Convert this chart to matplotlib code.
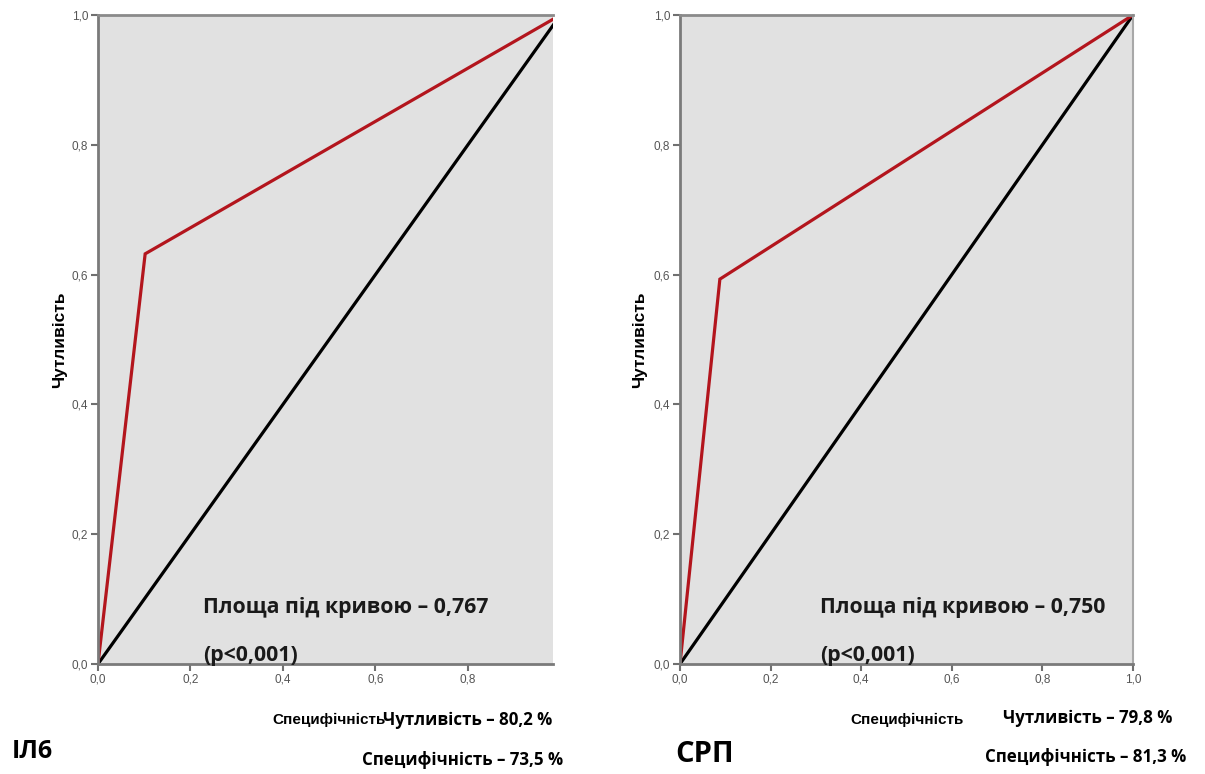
import matplotlib
matplotlib.use("Agg")
import matplotlib.pyplot as plt

# -----------------------------
# DATA
# -----------------------------
fpr_il6 = [0.0, 0.102, 1.0]
tpr_il6 = [0.0, 0.632, 1.0]
fpr_crp = [0.0, 0.088, 1.0]
tpr_crp = [0.0, 0.593, 1.0]
ref_line = [0.0, 1.0]

tick_vals = [0.0, 0.2, 0.4, 0.6, 0.8, 1.0]
tick_labels = ["0,0", "0,2", "0,4", "0,6", "0,8", "1,0"]

auc_il6 = "Площа під кривою – 0,767"
auc_crp = "Площа під кривою – 0,750"
p_text = "(p<0,001)"

W, H = 1205, 774
BG = "#e1e1e1"
RED = "#b3151d"
TEXT_FONT = ["Open Sans", "DejaVu Sans"]
SMALL_FONT = ["Liberation Sans Narrow", "Liberation Sans", "DejaVu Sans"]


def fx(px):
    return px / W


def fy(py):
    return 1 - py / H


fig = plt.figure(figsize=(W / 100, H / 100), dpi=100)


def make_panel(left_px, right_px, xmax, fpr, tpr, show_right):
    ax = fig.add_axes([fx(left_px), fy(664), (right_px - left_px) / W, 649 / H])
    ax.set_facecolor(BG)
    ax.plot(ref_line, ref_line, color="black", lw=2.3, solid_capstyle="butt")
    ax.plot(fpr, tpr, color=RED, lw=2.3, solid_joinstyle="miter")
    ax.set_xlim(0, xmax)
    ax.set_ylim(0, 1)
    xt = [v for v in tick_vals if v <= xmax + 1e-9]
    ax.set_xticks(xt)
    ax.set_xticklabels(tick_labels[:len(xt)])
    ax.set_yticks(tick_vals)
    ax.set_yticklabels(tick_labels)
    ax.tick_params(length=5, width=1.5, color="#707070", labelsize=8.5,
                   labelcolor="#555555", pad=2)
    for lab in ax.get_xticklabels() + ax.get_yticklabels():
        lab.set_family(SMALL_FONT)
    for side in ["left", "bottom"]:
        ax.spines[side].set_color("#7a7a7a")
        ax.spines[side].set_linewidth(2)
    ax.spines["top"].set_color("#8a8a8a")
    ax.spines["top"].set_linewidth(2)
    if show_right:
        ax.spines["right"].set_color("#a8a8a8")
        ax.spines["right"].set_linewidth(1.5)
    else:
        ax.spines["right"].set_visible(False)
    return ax


ax1 = make_panel(98, 553, 0.984, fpr_il6, tpr_il6, False)
ax2 = make_panel(680, 1133, 1.0, fpr_crp, tpr_crp, True)

# y labels
for xpx in [60, 640]:
    fig.text(fx(xpx), fy(340), "Чутливість", rotation=90, ha="center",
             va="center", fontsize=12.5, fontweight="bold", family=SMALL_FONT)

# AUC annotations
for xpx, auc in [(203, auc_il6), (820, auc_crp)]:
    fig.text(fx(xpx), fy(607), auc, ha="left", va="center", fontsize=15.3,
             fontweight="bold", family=TEXT_FONT, color="#1a1a1a")
    fig.text(fx(xpx), fy(655), p_text, ha="left", va="center", fontsize=15.3,
             fontweight="bold", family=TEXT_FONT, color="#1a1a1a")

# bottom texts
fig.text(fx(272), fy(720), "Специфічність", ha="left", va="center",
         fontsize=11, fontweight="bold", family=SMALL_FONT)
fig.text(fx(383), fy(720), "Чутливість – 80,2 %", ha="left", va="center",
         fontsize=12.2, fontweight="bold", family=TEXT_FONT)
fig.text(fx(362), fy(760), "Специфічність – 73,5 %", ha="left", va="center",
         fontsize=12.2, fontweight="bold", family=TEXT_FONT)
fig.text(fx(12), fy(752), "ІЛ6", ha="left", va="center", fontsize=18,
         fontweight="bold", family=TEXT_FONT)

fig.text(fx(850), fy(720), "Специфічність", ha="left", va="center",
         fontsize=11, fontweight="bold", family=SMALL_FONT)
fig.text(fx(1003), fy(718), "Чутливість – 79,8 %", ha="left", va="center",
         fontsize=12.2, fontweight="bold", family=TEXT_FONT)
fig.text(fx(985), fy(757), "Специфічність – 81,3 %", ha="left", va="center",
         fontsize=12.2, fontweight="bold", family=TEXT_FONT)
fig.text(fx(675), fy(755), "СРП", ha="left", va="center", fontsize=21,
         fontweight="bold", family=TEXT_FONT)

fig.savefig("out.png", dpi=100)
